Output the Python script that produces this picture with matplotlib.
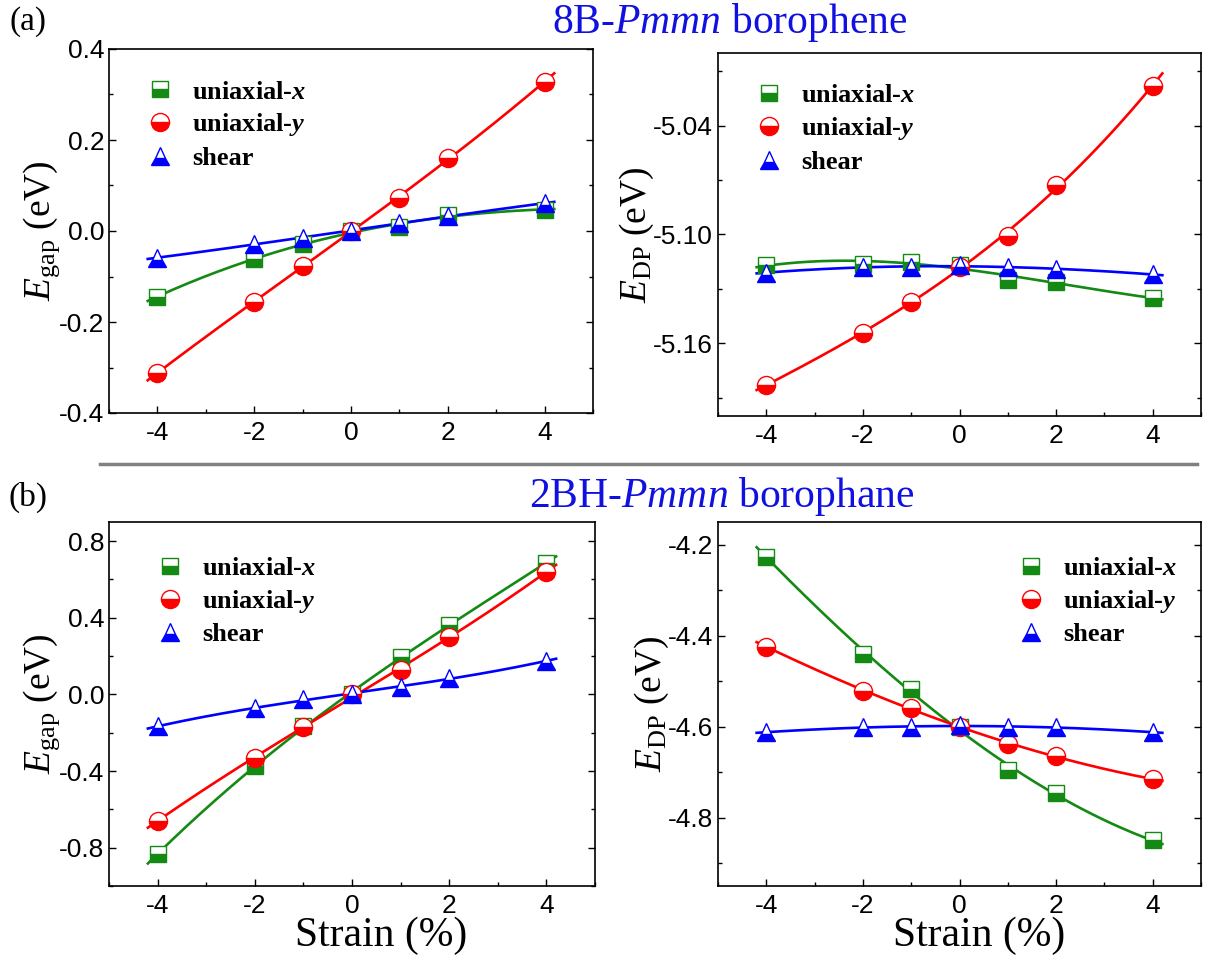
import numpy as np
import matplotlib
matplotlib.use('Agg')
import matplotlib.pyplot as plt
from matplotlib.ticker import MultipleLocator
from matplotlib.lines import Line2D

plt.rcParams['mathtext.fontset'] = 'custom'
plt.rcParams['mathtext.rm'] = 'Liberation Serif'
plt.rcParams['mathtext.it'] = 'Liberation Serif:italic'
plt.rcParams['mathtext.bf'] = 'Liberation Serif:bold:italic'
plt.rcParams['font.family'] = 'Liberation Sans'

# strain points (%)
strain = [-4, -2, -1, 0, 1, 2, 4]

# (a) 8B-Pmmn borophene
gap_a_x = [-0.144, -0.062, -0.029, 0.0, 0.008, 0.036, 0.047]
gap_a_y = [-0.312, -0.155, -0.078, 0.0, 0.072, 0.160, 0.328]
gap_a_s = [-0.059, -0.028, -0.015, 0.0, 0.017, 0.033, 0.061]
edp_a_x = [-5.117, -5.116, -5.115, -5.117, -5.125, -5.126, -5.135]
edp_a_y = [-5.183, -5.154, -5.137, -5.118, -5.101, -5.073, -5.018]
edp_a_s = [-5.121, -5.118, -5.118, -5.117, -5.118, -5.119, -5.122]

# (b) 2BH-Pmmn borophane
gap_b_x = [-0.833, -0.376, -0.166, 0.0, 0.195, 0.364, 0.687]
gap_b_y = [-0.659, -0.333, -0.171, 0.0, 0.125, 0.300, 0.640]
gap_b_s = [-0.167, -0.070, -0.026, 0.0, 0.038, 0.087, 0.174]
edp_b_x = [-4.226, -4.440, -4.517, -4.600, -4.695, -4.746, -4.850]
edp_b_y = [-4.424, -4.521, -4.559, -4.600, -4.637, -4.665, -4.715]
edp_b_s = [-4.612, -4.601, -4.601, -4.596, -4.601, -4.601, -4.612]

labels = ['uniaxial-$\\mathbf{x}$', 'uniaxial-$\\mathbf{y}$', 'shear']
colors = ['#148a14', '#ff0000', '#0000ff']
markers = ['s', 'o', '^']

W, H = 1209, 958
fig = plt.figure(figsize=(W / 100, H / 100), dpi=100)


def px_axes(l, t, r, b):
    return fig.add_axes([l / W, 1 - b / H, (r - l) / W, (b - t) / H])


def panel(ax, series, ylim, major, minor, ylabel, legend_loc, legend_anchor,
          xlabel=None):
    xf = np.linspace(-4.2, 4.2, 200)
    handles = []
    for vals, c, m, lab in zip(series, colors, markers, labels):
        coef = np.polyfit(strain, vals, 3)
        ax.plot(xf, np.polyval(coef, xf), color=c, lw=1.9, zorder=2)
        ms = 13 if m != 's' else 12
        ax.plot(strain, vals, ls='none', marker=m, ms=ms, mec=c, mfc=c,
                mfcalt='white', fillstyle='bottom', mew=1.0, zorder=3)
        handles.append(Line2D([], [], ls='none', marker=m, ms=ms, mec=c, mfc=c,
                              mfcalt='white', fillstyle='bottom', mew=1.0, label=lab))
    ax.set_xlim(-5, 5)
    ax.set_ylim(*ylim)
    ax.xaxis.set_major_locator(MultipleLocator(2))
    ax.xaxis.set_minor_locator(MultipleLocator(1))
    ax.yaxis.set_major_locator(MultipleLocator(major))
    ax.yaxis.set_minor_locator(MultipleLocator(minor))
    ax.tick_params(which='both', direction='in', right=True, top=False,
                   labelsize=19, width=1)
    ax.tick_params(which='major', length=5)
    ax.tick_params(which='minor', length=3)
    ax.tick_params(axis='x', pad=6)
    for sp in ax.spines.values():
        sp.set_linewidth(1.2)
    ax.set_ylabel(ylabel, fontsize=27, family='Liberation Serif', labelpad=-2)
    if xlabel is not None:
        ax.set_xlabel('Strain (%)', fontsize=30, family='Liberation Serif')
        ax.xaxis.set_label_coords(xlabel, -0.085)
    ax.legend(handles=handles, loc=legend_loc, bbox_to_anchor=legend_anchor,
              frameon=False, handletextpad=0.7, labelspacing=0.3, handlelength=1.0,
              prop={'family': 'Liberation Serif', 'weight': 'bold', 'size': 19})


egap = '$E_{\\mathrm{gap}}$ (eV)'
edp = '$E_{\\mathrm{DP}}$ (eV)'

ax1 = px_axes(109, 49, 593, 413)
panel(ax1, [gap_a_x, gap_a_y, gap_a_s], (-0.4, 0.4), 0.2, 0.1, egap,
      'upper left', (0.03, 0.98))
ax1.set_yticklabels([f'{v:.1f}' for v in ax1.get_yticks()])

ax2 = px_axes(718, 53, 1201, 416)
panel(ax2, [edp_a_x, edp_a_y, edp_a_s], (-5.20, -5.00), 0.06, 0.03, edp,
      'upper left', (0.03, 0.98))
ax2.set_yticks([-5.16, -5.10, -5.04])
ax2.set_yticklabels(['-5.16', '-5.10', '-5.04'])

ax3 = px_axes(109, 522, 595, 886)
panel(ax3, [gap_b_x, gap_b_y, gap_b_s], (-1.0, 0.9), 0.4, 0.2, egap,
      'upper left', (0.05, 0.97), xlabel=0.56)
ax3.set_yticks([-0.8, -0.4, 0.0, 0.4, 0.8])
ax3.set_yticklabels(['-0.8', '-0.4', '0.0', '0.4', '0.8'])

ax4 = px_axes(718, 522, 1201, 886)
panel(ax4, [edp_b_x, edp_b_y, edp_b_s], (-4.95, -4.15), 0.2, 0.1, edp,
      'upper right', (1.0, 0.97), xlabel=0.54)
ax4.set_yticks([-4.8, -4.6, -4.4, -4.2])
ax4.set_yticklabels(['-4.8', '-4.6', '-4.4', '-4.2'])

for a in (ax1, ax2, ax3, ax4):
    a.set_xticklabels([f'{int(v)}' for v in a.get_xticks()])

fig.text(730 / W, 1 - 22 / H, '8B-$\\mathit{Pmmn}$ borophene', color='#1010e0',
         fontsize=30, family='Liberation Serif', ha='center', va='center')
fig.text(722 / W, 1 - 497 / H, '2BH-$\\mathit{Pmmn}$ borophane', color='#1010e0',
         fontsize=30, family='Liberation Serif', ha='center', va='center')
fig.text(28 / W, 1 - 22 / H, '(a)', fontsize=24, family='Liberation Serif',
         ha='center', va='center')
fig.text(28 / W, 1 - 497 / H, '(b)', fontsize=24, family='Liberation Serif',
         ha='center', va='center')
fig.add_artist(Line2D([100 / W, 1197 / W], [1 - 464 / H, 1 - 464 / H],
                      color='#808080', lw=2.5))

fig.savefig('out.png', dpi=100)
